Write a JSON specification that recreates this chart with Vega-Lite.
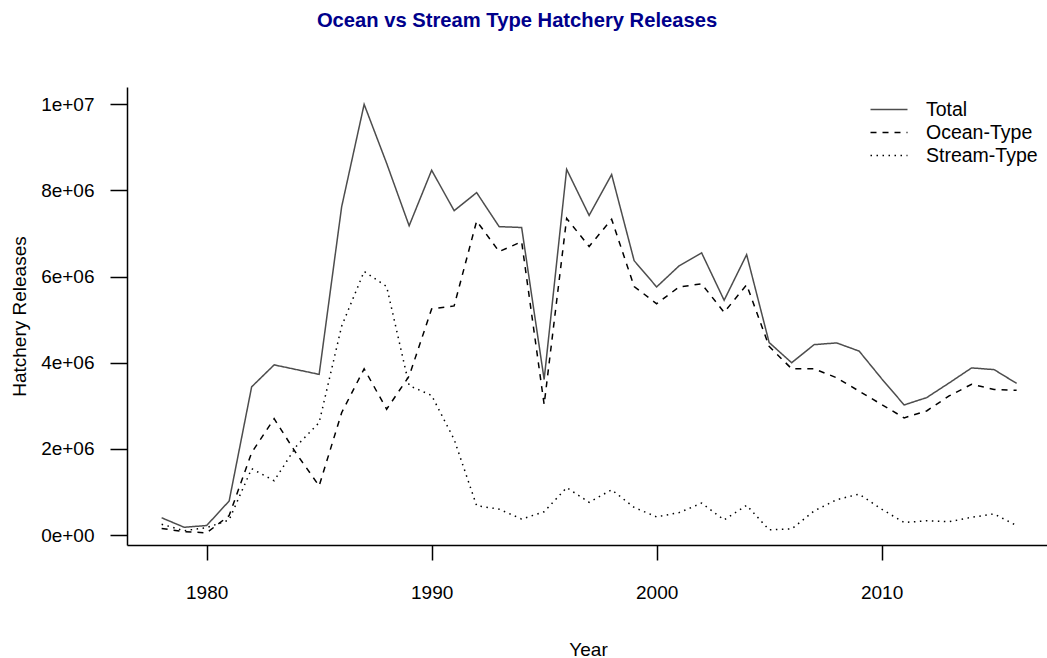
{
  "$schema": "https://vega.github.io/schema/vega-lite/v6.json",
  "autosize": {"type": "none"},
  "width": 920,
  "height": 458,
  "padding": {"left": 127, "top": 87, "right": 0, "bottom": 113},
  "background": "white",
  "title": {
    "text": "Ocean vs Stream Type Hatchery Releases",
    "font": "Liberation Sans",
    "fontSize": 20.2,
    "fontWeight": "bold",
    "color": "#00008B",
    "anchor": "middle",
    "frame": "group",
    "baseline": "alphabetic",
    "offset": 39.5,
    "dx": -70
  },
  "config": {
    "font": "Liberation Sans",
    "view": {"stroke": null},
    "axis": {"grid": false}
  },
  "data": {
    "values": [
      {"Year": 1978, "Type": "Total", "Releases": 400000},
      {"Year": 1979, "Type": "Total", "Releases": 180000},
      {"Year": 1980, "Type": "Total", "Releases": 220000},
      {"Year": 1981, "Type": "Total", "Releases": 790000},
      {"Year": 1982, "Type": "Total", "Releases": 3440000},
      {"Year": 1983, "Type": "Total", "Releases": 3950000},
      {"Year": 1984, "Type": "Total", "Releases": 3840000},
      {"Year": 1985, "Type": "Total", "Releases": 3730000},
      {"Year": 1986, "Type": "Total", "Releases": 7620000},
      {"Year": 1987, "Type": "Total", "Releases": 10000000},
      {"Year": 1988, "Type": "Total", "Releases": 8630000},
      {"Year": 1989, "Type": "Total", "Releases": 7180000},
      {"Year": 1990, "Type": "Total", "Releases": 8470000},
      {"Year": 1991, "Type": "Total", "Releases": 7530000},
      {"Year": 1992, "Type": "Total", "Releases": 7950000},
      {"Year": 1993, "Type": "Total", "Releases": 7160000},
      {"Year": 1994, "Type": "Total", "Releases": 7140000},
      {"Year": 1995, "Type": "Total", "Releases": 3610000},
      {"Year": 1996, "Type": "Total", "Releases": 8490000},
      {"Year": 1997, "Type": "Total", "Releases": 7420000},
      {"Year": 1998, "Type": "Total", "Releases": 8370000},
      {"Year": 1999, "Type": "Total", "Releases": 6370000},
      {"Year": 2000, "Type": "Total", "Releases": 5760000},
      {"Year": 2001, "Type": "Total", "Releases": 6250000},
      {"Year": 2002, "Type": "Total", "Releases": 6550000},
      {"Year": 2003, "Type": "Total", "Releases": 5450000},
      {"Year": 2004, "Type": "Total", "Releases": 6510000},
      {"Year": 2005, "Type": "Total", "Releases": 4470000},
      {"Year": 2006, "Type": "Total", "Releases": 4000000},
      {"Year": 2007, "Type": "Total", "Releases": 4420000},
      {"Year": 2008, "Type": "Total", "Releases": 4460000},
      {"Year": 2009, "Type": "Total", "Releases": 4270000},
      {"Year": 2010, "Type": "Total", "Releases": 3630000},
      {"Year": 2011, "Type": "Total", "Releases": 3020000},
      {"Year": 2012, "Type": "Total", "Releases": 3190000},
      {"Year": 2013, "Type": "Total", "Releases": 3530000},
      {"Year": 2014, "Type": "Total", "Releases": 3880000},
      {"Year": 2015, "Type": "Total", "Releases": 3840000},
      {"Year": 2016, "Type": "Total", "Releases": 3520000},
      {"Year": 1978, "Type": "Ocean-Type", "Releases": 150000},
      {"Year": 1979, "Type": "Ocean-Type", "Releases": 80000},
      {"Year": 1980, "Type": "Ocean-Type", "Releases": 50000},
      {"Year": 1981, "Type": "Ocean-Type", "Releases": 450000},
      {"Year": 1982, "Type": "Ocean-Type", "Releases": 1910000},
      {"Year": 1983, "Type": "Ocean-Type", "Releases": 2700000},
      {"Year": 1984, "Type": "Ocean-Type", "Releases": 1880000},
      {"Year": 1985, "Type": "Ocean-Type", "Releases": 1140000},
      {"Year": 1986, "Type": "Ocean-Type", "Releases": 2840000},
      {"Year": 1987, "Type": "Ocean-Type", "Releases": 3860000},
      {"Year": 1988, "Type": "Ocean-Type", "Releases": 2920000},
      {"Year": 1989, "Type": "Ocean-Type", "Releases": 3690000},
      {"Year": 1990, "Type": "Ocean-Type", "Releases": 5250000},
      {"Year": 1991, "Type": "Ocean-Type", "Releases": 5320000},
      {"Year": 1992, "Type": "Ocean-Type", "Releases": 7290000},
      {"Year": 1993, "Type": "Ocean-Type", "Releases": 6580000},
      {"Year": 1994, "Type": "Ocean-Type", "Releases": 6810000},
      {"Year": 1995, "Type": "Ocean-Type", "Releases": 3030000},
      {"Year": 1996, "Type": "Ocean-Type", "Releases": 7350000},
      {"Year": 1997, "Type": "Ocean-Type", "Releases": 6700000},
      {"Year": 1998, "Type": "Ocean-Type", "Releases": 7330000},
      {"Year": 1999, "Type": "Ocean-Type", "Releases": 5770000},
      {"Year": 2000, "Type": "Ocean-Type", "Releases": 5370000},
      {"Year": 2001, "Type": "Ocean-Type", "Releases": 5760000},
      {"Year": 2002, "Type": "Ocean-Type", "Releases": 5830000},
      {"Year": 2003, "Type": "Ocean-Type", "Releases": 5170000},
      {"Year": 2004, "Type": "Ocean-Type", "Releases": 5810000},
      {"Year": 2005, "Type": "Ocean-Type", "Releases": 4380000},
      {"Year": 2006, "Type": "Ocean-Type", "Releases": 3860000},
      {"Year": 2007, "Type": "Ocean-Type", "Releases": 3860000},
      {"Year": 2008, "Type": "Ocean-Type", "Releases": 3650000},
      {"Year": 2009, "Type": "Ocean-Type", "Releases": 3340000},
      {"Year": 2010, "Type": "Ocean-Type", "Releases": 3030000},
      {"Year": 2011, "Type": "Ocean-Type", "Releases": 2720000},
      {"Year": 2012, "Type": "Ocean-Type", "Releases": 2880000},
      {"Year": 2013, "Type": "Ocean-Type", "Releases": 3230000},
      {"Year": 2014, "Type": "Ocean-Type", "Releases": 3500000},
      {"Year": 2015, "Type": "Ocean-Type", "Releases": 3380000},
      {"Year": 2016, "Type": "Ocean-Type", "Releases": 3360000},
      {"Year": 1978, "Type": "Stream-Type", "Releases": 250000},
      {"Year": 1979, "Type": "Stream-Type", "Releases": 100000},
      {"Year": 1980, "Type": "Stream-Type", "Releases": 170000},
      {"Year": 1981, "Type": "Stream-Type", "Releases": 350000},
      {"Year": 1982, "Type": "Stream-Type", "Releases": 1540000},
      {"Year": 1983, "Type": "Stream-Type", "Releases": 1260000},
      {"Year": 1984, "Type": "Stream-Type", "Releases": 2070000},
      {"Year": 1985, "Type": "Stream-Type", "Releases": 2610000},
      {"Year": 1986, "Type": "Stream-Type", "Releases": 4850000},
      {"Year": 1987, "Type": "Stream-Type", "Releases": 6120000},
      {"Year": 1988, "Type": "Stream-Type", "Releases": 5770000},
      {"Year": 1989, "Type": "Stream-Type", "Releases": 3470000},
      {"Year": 1990, "Type": "Stream-Type", "Releases": 3240000},
      {"Year": 1991, "Type": "Stream-Type", "Releases": 2220000},
      {"Year": 1992, "Type": "Stream-Type", "Releases": 680000},
      {"Year": 1993, "Type": "Stream-Type", "Releases": 600000},
      {"Year": 1994, "Type": "Stream-Type", "Releases": 370000},
      {"Year": 1995, "Type": "Stream-Type", "Releases": 540000},
      {"Year": 1996, "Type": "Stream-Type", "Releases": 1100000},
      {"Year": 1997, "Type": "Stream-Type", "Releases": 760000},
      {"Year": 1998, "Type": "Stream-Type", "Releases": 1050000},
      {"Year": 1999, "Type": "Stream-Type", "Releases": 640000},
      {"Year": 2000, "Type": "Stream-Type", "Releases": 420000},
      {"Year": 2001, "Type": "Stream-Type", "Releases": 520000},
      {"Year": 2002, "Type": "Stream-Type", "Releases": 740000},
      {"Year": 2003, "Type": "Stream-Type", "Releases": 350000},
      {"Year": 2004, "Type": "Stream-Type", "Releases": 690000},
      {"Year": 2005, "Type": "Stream-Type", "Releases": 120000},
      {"Year": 2006, "Type": "Stream-Type", "Releases": 140000},
      {"Year": 2007, "Type": "Stream-Type", "Releases": 560000},
      {"Year": 2008, "Type": "Stream-Type", "Releases": 820000},
      {"Year": 2009, "Type": "Stream-Type", "Releases": 950000},
      {"Year": 2010, "Type": "Stream-Type", "Releases": 600000},
      {"Year": 2011, "Type": "Stream-Type", "Releases": 290000},
      {"Year": 2012, "Type": "Stream-Type", "Releases": 330000},
      {"Year": 2013, "Type": "Stream-Type", "Releases": 310000},
      {"Year": 2014, "Type": "Stream-Type", "Releases": 410000},
      {"Year": 2015, "Type": "Stream-Type", "Releases": 490000},
      {"Year": 2016, "Type": "Stream-Type", "Releases": 220000}
    ]
  },
  "mark": {"type": "line", "strokeWidth": 1.5, "clip": true},
  "encoding": {
    "x": {
      "field": "Year",
      "type": "quantitative",
      "scale": {"domain": [1976.46, 2017.35], "nice": false, "zero": false},
      "axis": {
        "values": [1980, 1990, 2000, 2010],
        "format": "d",
        "title": "Year",
        "domainColor": "black",
        "domainWidth": 1.5,
        "tickColor": "black",
        "tickWidth": 1.5,
        "tickSize": 15,
        "labelFontSize": 19,
        "labelColor": "black",
        "labelBaseline": "alphabetic",
        "labelPadding": 38,
        "labelFlush": false,
        "titleFontSize": 19,
        "titleFontWeight": "normal",
        "titleColor": "black",
        "titleBaseline": "alphabetic",
        "titleX": 461,
        "titleY": 110
      }
    },
    "y": {
      "field": "Releases",
      "type": "quantitative",
      "scale": {"domain": [-232000, 10402000], "nice": false, "zero": false},
      "axis": {
        "values": [0, 2000000, 4000000, 6000000, 8000000, 10000000],
        "labelExpr": "datum.value == 0 ? '0e+00' : datum.value == 10000000 ? '1e+07' : format(datum.value / 1000000, 'd') + 'e+06'",
        "title": "Hatchery Releases",
        "domainColor": "black",
        "domainWidth": 1.5,
        "tickColor": "black",
        "tickWidth": 1.5,
        "tickSize": 17,
        "labelFontSize": 19,
        "labelColor": "black",
        "labelPadding": 16,
        "labelFlush": false,
        "titleFontSize": 19,
        "titleFontWeight": "normal",
        "titleColor": "black",
        "titleAngle": -90,
        "titleBaseline": "alphabetic",
        "titleAlign": "center",
        "titleX": -102,
        "titleY": 229
      }
    },
    "color": {
      "field": "Type",
      "type": "nominal",
      "scale": {
        "domain": ["Total", "Ocean-Type", "Stream-Type"],
        "range": ["#4d4d4d", "black", "black"]
      },
      "legend": {
        "title": null,
        "orient": "none",
        "legendX": 752,
        "legendY": 12.5,
        "symbolType": "M-2,0H2",
        "symbolSize": 342,
        "symbolStrokeWidth": 1.5,
        "labelFontSize": 19.5,
        "labelColor": "black",
        "labelOffset": 27,
        "rowPadding": 3
      }
    },
    "strokeDash": {
      "field": "Type",
      "type": "nominal",
      "scale": {
        "domain": ["Total", "Ocean-Type", "Stream-Type"],
        "range": [[1, 0], [6, 6], [1.5, 4.5]]
      },
      "legend": {
        "title": null,
        "orient": "none",
        "legendX": 752,
        "legendY": 12.5,
        "symbolType": "M-2,0H2",
        "symbolSize": 342,
        "symbolStrokeWidth": 1.5,
        "labelFontSize": 19.5,
        "labelColor": "black",
        "labelOffset": 27,
        "rowPadding": 3
      }
    }
  }
}
